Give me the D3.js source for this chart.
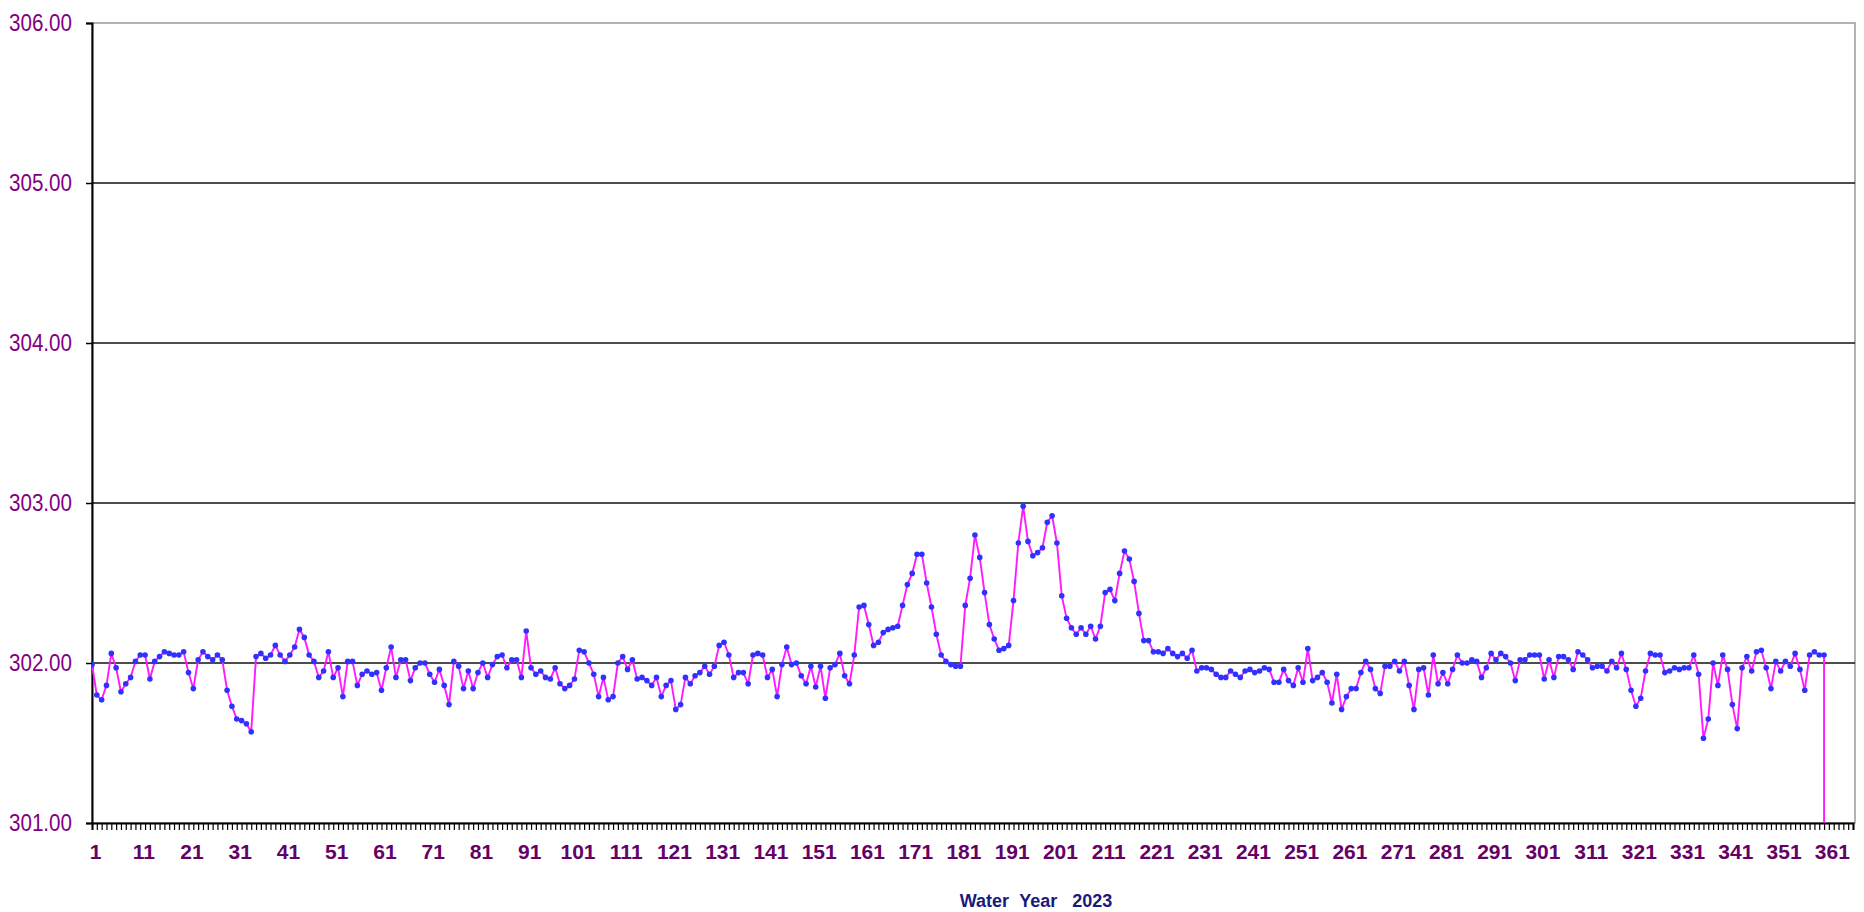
<!DOCTYPE html>
<html>
<head>
<meta charset="utf-8">
<script src="https://cdn.jsdelivr.net/npm/d3@7"></script>
<style>
  body { margin: 0; background: #fff; }
  svg { display: block; }
</style>
</head>
<body>
<div id="chart"></div>
<script>
// daily elevation, days 1..361 of the water year (day 361 drops out of range)
var elevation = [
  301.99, 301.80, 301.77, 301.86, 302.06, 301.97, 301.82, 301.87, 301.91, 302.01,
  302.05, 302.05, 301.90, 302.01, 302.04, 302.07, 302.06, 302.05, 302.05, 302.07,
  301.94, 301.84, 302.02, 302.07, 302.04, 302.02, 302.05, 302.02, 301.83, 301.73,
  301.65, 301.64, 301.62, 301.57, 302.04, 302.06, 302.03, 302.05, 302.11, 302.05,
  302.01, 302.05, 302.10, 302.21, 302.16, 302.05, 302.01, 301.91, 301.95, 302.07,
  301.91, 301.97, 301.79, 302.01, 302.01, 301.86, 301.93, 301.95, 301.93, 301.94,
  301.83, 301.97, 302.10, 301.91, 302.02, 302.02, 301.89, 301.97, 302.00, 302.00,
  301.93, 301.88, 301.96, 301.86, 301.74, 302.01, 301.98, 301.84, 301.95, 301.84,
  301.94, 302.00, 301.91, 301.99, 302.04, 302.05, 301.97, 302.02, 302.02, 301.91,
  302.20, 301.97, 301.93, 301.95, 301.91, 301.90, 301.97, 301.87, 301.84, 301.86,
  301.90, 302.08, 302.07, 302.00, 301.93, 301.79, 301.91, 301.77, 301.79, 302.00,
  302.04, 301.96, 302.02, 301.90, 301.91, 301.89, 301.86, 301.91, 301.79, 301.86,
  301.89, 301.71, 301.74, 301.91, 301.87, 301.92, 301.94, 301.98, 301.93, 301.98,
  302.11, 302.13, 302.05, 301.91, 301.94, 301.94, 301.87, 302.05, 302.06, 302.05,
  301.91, 301.96, 301.79, 301.99, 302.10, 301.99, 302.00, 301.92, 301.87, 301.98,
  301.85, 301.98, 301.78, 301.97, 301.99, 302.06, 301.92, 301.87, 302.05, 302.35,
  302.36, 302.24, 302.11, 302.13, 302.19, 302.21, 302.22, 302.23, 302.36, 302.49,
  302.56, 302.68, 302.68, 302.50, 302.35, 302.18, 302.05, 302.01, 301.99, 301.98,
  301.98, 302.36, 302.53, 302.80, 302.66, 302.44, 302.24, 302.15, 302.08, 302.09,
  302.11, 302.39, 302.75, 302.98, 302.76, 302.67, 302.69, 302.72, 302.88, 302.92,
  302.75, 302.42, 302.28, 302.22, 302.18, 302.22, 302.18, 302.23, 302.15, 302.23,
  302.44, 302.46, 302.39, 302.56, 302.70, 302.65, 302.51, 302.31, 302.14, 302.14,
  302.07, 302.07, 302.06, 302.09, 302.06, 302.04, 302.06, 302.03, 302.08, 301.95,
  301.97, 301.97, 301.96, 301.93, 301.91, 301.91, 301.95, 301.93, 301.91, 301.95,
  301.96, 301.94, 301.95, 301.97, 301.96, 301.88, 301.88, 301.96, 301.89, 301.86,
  301.97, 301.88, 302.09, 301.89, 301.91, 301.94, 301.88, 301.75, 301.93, 301.71,
  301.79, 301.84, 301.84, 301.94, 302.01, 301.96, 301.84, 301.81, 301.98, 301.98,
  302.01, 301.95, 302.01, 301.86, 301.71, 301.96, 301.97, 301.80, 302.05, 301.87,
  301.94, 301.87, 301.96, 302.05, 302.00, 302.00, 302.02, 302.01, 301.91, 301.97,
  302.06, 302.02, 302.06, 302.04, 302.00, 301.89, 302.02, 302.02, 302.05, 302.05,
  302.05, 301.90, 302.02, 301.91, 302.04, 302.04, 302.02, 301.96, 302.07, 302.05,
  302.02, 301.97, 301.98, 301.98, 301.95, 302.01, 301.97, 302.06, 301.96, 301.83,
  301.73, 301.78, 301.95, 302.06, 302.05, 302.05, 301.94, 301.95, 301.97, 301.96,
  301.97, 301.97, 302.05, 301.93, 301.53, 301.65, 302.00, 301.86, 302.05, 301.96,
  301.74, 301.59, 301.97, 302.04, 301.95, 302.07, 302.08, 301.97, 301.84, 302.01,
  301.95, 302.01, 301.98, 302.06, 301.96, 301.83, 302.05, 302.07, 302.05, 302.05,
  0
];
var days = elevation.map(function(v, i) { return i + 1; });
var yTicks = [301, 302, 303, 304, 305, 306];
var xTickLabels = [1, 11, 21, 31, 41, 51, 61, 71, 81, 91, 101, 111, 121, 131, 141, 151, 161, 171,
  181, 191, 201, 211, 221, 231, 241, 251, 261, 271, 281, 291, 301, 311, 321, 331, 341, 351, 361];
var title = "Water\u00a0\u00a0Year\u00a0\u00a0\u00a02023";

var margin = {top: 23, right: 9, bottom: 89, left: 92},
    width = 1864 - margin.left - margin.right,
    height = 912 - margin.top - margin.bottom;

var svg = d3.select("#chart")
  .append("svg")
    .attr("width", 1864)
    .attr("height", 912)
  .append("g")
    .attr("transform", "translate(" + margin.left + "," + margin.top + ")");

var x = d3.scaleLinear()
    .domain([1, 366])
    .range([0, width - 2]);

var y = d3.scaleLinear()
    .domain([301, 306])
    .range([height, 0]);

svg.append("clipPath")
    .attr("id", "plot-clip")
  .append("rect")
    .attr("width", width)
    .attr("height", height);

// plot frame (grey) and gridlines (black)
svg.append("rect")
    .attr("width", width)
    .attr("height", height)
    .attr("fill", "none")
    .attr("stroke", "#9a9a9a")
    .attr("stroke-width", 1.5);

svg.selectAll(".grid")
    .data(yTicks.slice(1, -1))
    .enter()
    .append("line")
      .attr("x1", 0)
      .attr("x2", width)
      .attr("y1", function(d) { return y(d); })
      .attr("y2", function(d) { return y(d); })
      .attr("stroke", "#111")
      .attr("stroke-width", 1.7);

// Y axis
var yAxis = svg.append("g")
    .call(d3.axisLeft(y)
      .tickValues(yTicks)
      .tickFormat(d3.format(".2f"))
      .tickSize(6)
      .tickPadding(14));
yAxis.select(".domain").attr("stroke", "#000").attr("stroke-width", 2);
yAxis.selectAll(".tick line").attr("stroke", "#000").attr("stroke-width", 1.5);
yAxis.selectAll("text")
    .attr("textLength", 63)
    .attr("lengthAdjust", "spacingAndGlyphs")
    .style("fill", "#800080")
    .style("font-family", "'Liberation Sans', Arial, sans-serif")
    .style("font-size", "23px");

// X axis, a tick for every day
var xAxis = svg.append("g")
    .attr("transform", "translate(0," + height + ")")
    .call(d3.axisBottom(x)
      .tickValues(d3.range(1, 367))
      .tickFormat(function(d) { return xTickLabels.indexOf(d) >= 0 ? d : ""; })
      .tickSize(7)
      .tickPadding(14));
xAxis.select(".domain").attr("stroke", "#000").attr("stroke-width", 2);
xAxis.selectAll(".tick line").attr("stroke", "#000").attr("stroke-width", 1.2);
xAxis.selectAll("text")
    .attr("dx", 3)
    .style("fill", "#660066")
    .style("font-family", "'Liberation Sans', Arial, sans-serif")
    .style("font-weight", "bold")
    .style("font-size", "21px");

svg.append("text")
    .attr("x", 944)
    .attr("y", height + 84)
    .attr("text-anchor", "middle")
    .style("fill", "#1a1a7a")
    .style("font-family", "'Liberation Sans', Arial, sans-serif")
    .style("font-weight", "bold")
    .style("font-size", "18px")
    .text(title);

// series
var plot = svg.append("g").attr("clip-path", "url(#plot-clip)");

var line = d3.line()
    .x(function(d) { return x(d); })
    .y(function(d) { return y(elevation[d - 1]); });

plot.append("path")
    .datum(days)
    .attr("fill", "none")
    .attr("stroke", "#ff1aff")
    .attr("stroke-width", 1.9)
    .attr("d", line);

plot.selectAll(".dot")
    .data(days.filter(function(d) { return elevation[d - 1] > 0; }))
    .enter()
    .append("circle")
      .attr("cx", function(d) { return x(d); })
      .attr("cy", function(d) { return y(elevation[d - 1]); })
      .attr("r", 2.8)
      .attr("fill", "#3030ff");
</script>
</body>
</html>
